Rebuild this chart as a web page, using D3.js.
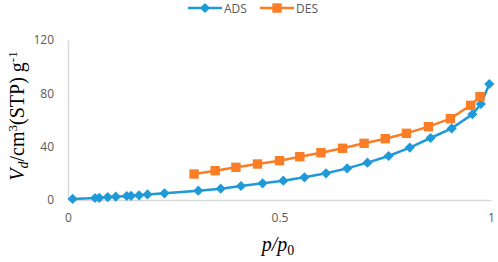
<!DOCTYPE html>
<html>
<head>
<meta charset="utf-8">
<script src="https://cdn.jsdelivr.net/npm/d3@7"></script>
<style>
	body { margin:0; background:#fff; }
	#chart svg { display:block; }
	.tick text { font-family:"Open Sans", sans-serif; font-size:12px; fill:#595959; }
</style>
</head>
<body>
<div id="chart"></div>
<script>

// data
const adsP = [0.011,0.064,0.074,0.094,0.113,0.139,0.149,0.168,0.188,0.228,0.308,0.361,0.409,0.46,0.509,0.559,0.61,0.66,0.708,0.758,0.808,0.857,0.907,0.956,0.976,0.996];
const adsV = [0.8,1.5,1.6,2.2,2.5,3,3.1,3.5,4.2,5,7,8.5,10.5,12.5,14.5,17,20,23.7,28,33,39.3,46.5,53.7,64.3,72,87];

const desP = [0.298,0.348,0.397,0.448,0.5,0.548,0.598,0.649,0.7,0.75,0.8,0.852,0.904,0.952,0.974];
const desV = [19.5,22,24.5,27,29.5,32.5,35.5,38.8,42.5,46,50,55,61,71,77.5];

const xTicks = [0, 0.5, 1];
const yTicks = [0, 40, 80, 120];

const seriesNames = ["ADS", "DES"];
const colors = ["#1f9ad9", "#fb7d26"];

function graph(){

	//sizing
	let margin = {top:40, right:7, bottom:62, left:68};
	let width = 498;
	let height = 262;

	let svg = d3.select("#chart")
		.append("svg")
		.attr("width", width)
		.attr("height", height);

	const xScale = d3.scaleLinear()
		.domain([0,1])
		.range([margin.left, width-margin.right]);

	const yScale = d3.scaleLinear()
		.domain([0,120])
		.range([height-margin.bottom, margin.top]);

	const xAxis = d3.axisBottom(xScale)
		.tickValues(xTicks)
		.tickSize(0)
		.tickPadding(13)
		.tickFormat(d3.format("~g"));

	const yAxis = d3.axisLeft(yScale)
		.tickValues(yTicks)
		.tickSize(0)
		.tickPadding(14);

	//axes
	let gx = svg.append("g")
		.attr("class", "axis x_axis")
		.attr("transform", `translate(0,${height-margin.bottom})`)
		.call(xAxis);
	gx.select(".domain").attr("stroke", "#d9d9d9").attr("stroke-width", 1.5);

	let gy = svg.append("g")
		.attr("class", "axis y_axis")
		.attr("transform", `translate(${margin.left},0)`)
		.call(yAxis);
	gy.select(".domain").attr("stroke", "#d9d9d9").attr("stroke-width", 1.5);

	//series
	const ads = adsP.map((p,i)=>({p:p, v:adsV[i]}));
	const des = desP.map((p,i)=>({p:p, v:desV[i]}));

	const line = d3.line()
		.x((d)=>xScale(d.p))
		.y((d)=>yScale(d.v));

	const diamond = d3.symbol().type(d3.symbolSquare).size(52);
	const square = d3.symbol().type(d3.symbolSquare).size(88);

	//ADS
	svg.append("path")
		.datum(ads)
		.attr("d", line)
		.attr("fill", "none")
		.attr("stroke", colors[0])
		.attr("stroke-width", 2.5);

	svg.append("g")
		.selectAll("path")
		.data(ads)
		.enter().append("path")
		.attr("d", diamond)
		.attr("fill", colors[0])
		.attr("transform", (d)=>`translate(${xScale(d.p)},${yScale(d.v)}) rotate(45)`);

	//DES
	svg.append("path")
		.datum(des)
		.attr("d", line)
		.attr("fill", "none")
		.attr("stroke", colors[1])
		.attr("stroke-width", 2.5);

	svg.append("g")
		.selectAll("path")
		.data(des)
		.enter().append("path")
		.attr("d", square)
		.attr("fill", colors[1])
		.attr("transform", (d)=>`translate(${xScale(d.p)},${yScale(d.v)})`);

	//legend
	const legendX = [188, 260];
	const leg = svg.append("g").attr("class", "legend");
	seriesNames.forEach((name,i)=>{
		let g = leg.append("g").attr("transform", `translate(${legendX[i]},8)`);
		g.append("line")
			.attr("x1", 0).attr("x2", 34)
			.attr("stroke", colors[i]).attr("stroke-width", 2.5);
		g.append("path")
			.attr("d", i==0 ? diamond : square)
			.attr("fill", colors[i])
			.attr("transform", i==0 ? "translate(17,0) rotate(45)" : "translate(17,0)");
		g.append("text")
			.attr("x", 36).attr("y", 4.5)
			.attr("font-family", "Open Sans, sans-serif")
			.attr("font-size", 12)
			.attr("fill", "#595959")
			.text(name);
	});

	//y title
	let yt = svg.append("text")
		.attr("transform", "translate(24,116) rotate(-90)")
		.attr("text-anchor", "middle")
		.attr("font-family", "Liberation Serif, serif")
		.attr("font-size", 20)
		.attr("fill", "#000");
	yt.append("tspan").attr("font-style", "italic").text("V");
	yt.append("tspan").attr("font-style", "italic").attr("font-size", 14).attr("dy", 4).text("d");
	yt.append("tspan").attr("dy", -4).text("/cm");
	yt.append("tspan").attr("font-size", 13).attr("dy", -7).text("3");
	yt.append("tspan").attr("dy", 7).text("(STP) g");
	yt.append("tspan").attr("font-size", 13).attr("dy", -7).text("-1");

	//x title
	let xt = svg.append("text")
		.attr("x", 278).attr("y", 251)
		.attr("text-anchor", "middle")
		.attr("font-family", "Liberation Serif, serif")
		.attr("font-size", 20)
		.attr("font-style", "italic")
		.attr("fill", "#000");
	xt.append("tspan").text("p/p");
	xt.append("tspan").attr("font-style", "normal").attr("font-size", 14).attr("dy", 4).text("0");

}

graph();
</script>
</body>
</html>
